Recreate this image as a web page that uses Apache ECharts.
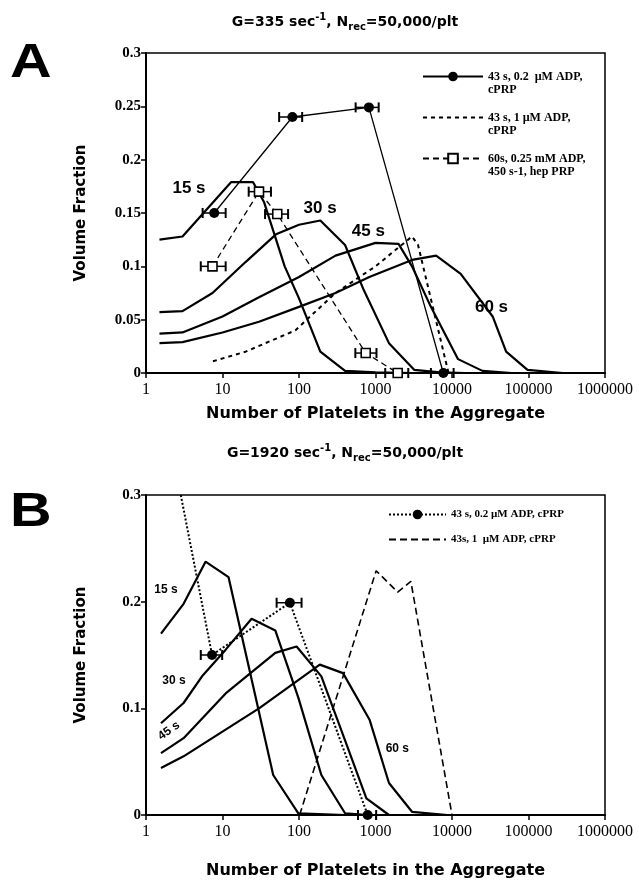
<!DOCTYPE html>
<html>
<head>
<meta charset="utf-8">
<script src="https://cdn.jsdelivr.net/npm/echarts@6/dist/echarts.min.js"></script>
<style>
html, body { margin: 0; padding: 0; background: #fff; }
#chart { width: 639px; height: 892px; }
</style>
</head>
<body>
<div id="chart"></div>
<script>
// ---- panel A : G=335 1/s ----
const a15x = [1.5, 3, 13, 25, 35, 65, 100, 190, 400, 1000, 3000];
const a15y = [0.125, 0.128, 0.179, 0.179, 0.16, 0.1, 0.07, 0.02, 0.002, 0.0005, 0];
const a30x = [1.5, 3, 7.4, 20, 50, 100, 190, 400, 700, 1500, 3200, 7000, 15000];
const a30y = [0.057, 0.058, 0.075, 0.104, 0.13, 0.139, 0.143, 0.12, 0.078, 0.028, 0.003, 0.0006, 0];
const a45x = [1.5, 3, 10, 30, 100, 300, 1000, 2000, 3000, 5300, 12000, 25000, 60000];
const a45y = [0.037, 0.038, 0.053, 0.071, 0.09, 0.11, 0.122, 0.121, 0.1, 0.062, 0.013, 0.002, 0];
const a60x = [1.5, 3, 10, 30, 100, 300, 830, 3000, 6200, 13000, 34000, 51000, 97000, 280000];
const a60y = [0.028, 0.029, 0.038, 0.048, 0.062, 0.075, 0.09, 0.106, 0.11, 0.093, 0.053, 0.02, 0.003, 0];
// 43 s, 1 uM ADP (dotted)
const a1uMx = [7.5, 20, 90, 150, 300, 1000, 3000, 3600, 9000];
const a1uMy = [0.011, 0.02, 0.04, 0.055, 0.075, 0.1, 0.128, 0.12, 0];
// 43 s, 0.2 uM ADP (filled circles) + error bars
const aDotx = [7.8, 82, 820, 7700];
const aDoty = [0.15, 0.24, 0.249, 0];
const aDotLo = [5.5, 55, 550, 5300];
const aDotHi = [11, 110, 1100, 10500];
// 60 s, 0.25 mM ADP (open squares) + error bars
const aSqx = [7.4, 30, 52, 745, 1950];
const aSqy = [0.1, 0.17, 0.149, 0.0187, 0];
const aSqLo = [5.2, 22, 36, 545, 1340];
const aSqHi = [11, 43, 72, 1030, 2680];
const aLabels = ['15 s', '30 s', '45 s', '60 s'];
const aLabelX = [3.65, 189, 805, 32800];
const aLabelY = [0.173, 0.154, 0.133, 0.062];

// ---- panel B : G=1920 1/s ----
const b15x = [1.57, 3.1, 6, 12, 46, 98, 400];
const b15y = [0.17, 0.198, 0.2375, 0.223, 0.0375, 0.0016, 0];
const b30x = [1.57, 3.1, 5.4, 11, 24, 49, 98, 196, 400, 800];
const b30y = [0.086, 0.105, 0.13, 0.155, 0.184, 0.173, 0.11, 0.0375, 0.0016, 0];
const b45x = [1.57, 3.1, 11, 49, 93, 196, 400, 760, 1500];
const b45y = [0.058, 0.072, 0.114, 0.152, 0.158, 0.13, 0.07, 0.0156, 0];
const b60x = [1.57, 3.1, 30, 187, 376, 840, 1500, 3000, 8700];
const b60y = [0.044, 0.055, 0.1, 0.141, 0.133, 0.089, 0.03, 0.003, 0];
// 43 s, 0.2 uM ADP (dotted, circles); first point is where the line enters the frame
const bDotx = [2.85, 7.3, 76, 790];
const bDoty = [0.3, 0.15, 0.199, 0];
const bDotLo = [null, 5.2, 51, 590];
const bDotHi = [null, 9.9, 108, 1020];
// 43 s, 1 uM ADP (dashed)
const b1uMx = [102, 1020, 1950, 2900, 10000];
const b1uMy = [0, 0.229, 0.209, 0.219, 0];
const bLabels = ['15 s', '30 s', '45 s', '60 s'];
const bLabelX = [1.82, 2.32, 2.0, 1930];
const bLabelY = [0.211, 0.1256, 0.079, 0.062];

const xTicks = [1, 10, 100, 1000, 10000, 100000, 1000000];

const zip = (xs, ys) => xs.map((x, i) => [x, ys[i]]);
const serif = 'Liberation Serif';
const sans = 'Liberation Sans';
const heavy = 'DejaVu Sans';

function curve(idx, xs, ys) {
  return {
    type: 'line', xAxisIndex: idx, yAxisIndex: idx, data: zip(xs, ys),
    symbol: 'none', lineStyle: { color: '#000', width: 2.2 }, z: 2
  };
}

function errBars(idx, xs, ys, lo, hi) {
  return {
    type: 'custom', xAxisIndex: idx, yAxisIndex: idx, silent: true, z: 3,
    data: xs.map((x, i) => [x, ys[i], lo[i], hi[i]]).filter(d => d[2] != null),
    renderItem: (params, api) => {
      const p0 = api.coord([api.value(2), api.value(1)]);
      const p1 = api.coord([api.value(3), api.value(1)]);
      const h = 5;
      const st = { stroke: '#000', lineWidth: 2 };
      return {
        type: 'group', children: [
          { type: 'line', shape: { x1: p0[0], y1: p0[1], x2: p1[0], y2: p1[1] }, style: { stroke: '#000', lineWidth: 1.5 } },
          { type: 'line', shape: { x1: p0[0], y1: p0[1] - h, x2: p0[0], y2: p0[1] + h }, style: st },
          { type: 'line', shape: { x1: p1[0], y1: p1[1] - h, x2: p1[0], y2: p1[1] + h }, style: st }
        ]
      };
    }
  };
}

function curveLabels(idx, names, xs, ys, size, rot) {
  return {
    type: 'scatter', xAxisIndex: idx, yAxisIndex: idx, silent: true, symbolSize: 1, z: 6,
    itemStyle: { color: 'rgba(0,0,0,0)', opacity: 1 },
    data: names.map((n, i) => ({ name: n, value: [xs[i], ys[i]], label: { rotate: rot[i] } })),
    label: { show: true, position: 'inside', formatter: '{b}', color: '#000', opacity: 1,
      textBorderWidth: 0, fontFamily: sans, fontWeight: 'bold', fontSize: size }
  };
}

function xAxisOpt(idx, gap) {
  return {
    type: 'log', logBase: 10, gridIndex: idx, min: 1, max: 1000000, splitNumber: 6,
    name: 'Number of Platelets in the Aggregate', nameLocation: 'middle', nameGap: gap,
    nameTextStyle: { fontFamily: heavy, fontWeight: 'bold', fontSize: 16, color: '#000' },
    axisLine: { lineStyle: { color: '#000', width: 2 } },
    axisTick: { show: true, length: 5, lineStyle: { color: '#000', width: 1.5 } },
    axisLabel: { color: '#000', fontFamily: serif, fontSize: 16, margin: 9,
      formatter: v => String(xTicks.find(t => Math.abs(t - v) / t < 0.01) || Math.round(v)) },
    splitLine: { show: false }, minorTick: { show: false }
  };
}

function yAxisOpt(idx, max, interval) {
  return {
    type: 'value', gridIndex: idx, min: 0, max: max, interval: interval,
    name: 'Volume Fraction', nameLocation: 'middle', nameGap: 57,
    nameTextStyle: { fontFamily: heavy, fontWeight: 'bold', fontSize: 15, color: '#000' },
    axisLine: { show: true, lineStyle: { color: '#000', width: 2 } },
    axisTick: { show: true, length: 5, lineStyle: { color: '#000', width: 1.5 } },
    axisLabel: { color: '#000', fontFamily: serif, fontWeight: 'bold', fontSize: 15, margin: 5 },
    splitLine: { show: false }
  };
}

const nA1 = '43 s, 0.2  \u00b5M ADP,\ncPRP';
const nA2 = '43 s, 1 \u00b5M ADP,\ncPRP';
const nA3 = '60s, 0.25 mM ADP,\n450 s-1, hep PRP';
const nB1 = '43 s, 0.2 \u00b5M ADP, cPRP';
const nB2 = '43s, 1  \u00b5M ADP, cPRP';
const noMark = { color: 'rgba(0,0,0,0)', borderColor: 'rgba(0,0,0,0)' };

const titleRich = {
  b: { fontFamily: heavy, fontWeight: 'bold', fontSize: 14, lineHeight: 20, color: '#000' },
  sup: { fontFamily: heavy, fontWeight: 'bold', fontSize: 10, lineHeight: 10, verticalAlign: 'top', color: '#000' },
  sub: { fontFamily: heavy, fontWeight: 'bold', fontSize: 10, lineHeight: 10, verticalAlign: 'bottom', color: '#000' }
};

const chart = echarts.init(document.getElementById('chart'), null, { renderer: 'canvas' });
chart.setOption({
  animation: false,
  backgroundColor: '#fff',
  grid: [
    { left: 146, top: 53, width: 459, height: 320, show: true, borderColor: '#000', borderWidth: 1.5, containLabel: false },
    { left: 146, top: 495, width: 459, height: 320, show: true, borderColor: '#000', borderWidth: 1.5, containLabel: false }
  ],
  xAxis: [xAxisOpt(0, 33), xAxisOpt(1, 48)],
  yAxis: [yAxisOpt(0, 0.3, 0.05), yAxisOpt(1, 0.3, 0.1)],
  legend: [
    {
      // leading blank line keeps the first text line level with the key
      data: [nA1, nA2, nA3], orient: 'vertical', left: 417, top: 52,
      itemWidth: 60, itemHeight: 12, itemGap: 2, selectedMode: false,
      formatter: name => '\n' + name,
      textStyle: { fontFamily: serif, fontWeight: 'bold', fontSize: 12, lineHeight: 13, color: '#000' }
    },
    {
      data: [nB1, nB2], orient: 'vertical', left: 383, top: 504,
      itemWidth: 57, itemHeight: 12, itemGap: 14, selectedMode: false,
      textStyle: { fontFamily: serif, fontWeight: 'bold', fontSize: 11, color: '#000' }
    }
  ],
  graphic: [
    { type: 'text', x: 345, y: 22, style: { text: '{b|G=335 sec}{sup|-1}{b|, N}{sub|rec}{b|=50,000/plt}', rich: titleRich, align: 'center', verticalAlign: 'middle' } },
    { type: 'text', x: 345, y: 453, style: { text: '{b|G=1920 sec}{sup|-1}{b|, N}{sub|rec}{b|=50,000/plt}', rich: titleRich, align: 'center', verticalAlign: 'middle' } },
    { type: 'text', x: 10, y: 64, scaleX: 1.2, style: { text: 'A', fontFamily: sans, fontWeight: 'bold', fontSize: 48, fill: '#000', verticalAlign: 'middle' } },
    { type: 'text', x: 10, y: 513, scaleX: 1.2, style: { text: 'B', fontFamily: sans, fontWeight: 'bold', fontSize: 48, fill: '#000', verticalAlign: 'middle' } }
  ],
  series: [
    curve(0, a15x, a15y), curve(0, a30x, a30y), curve(0, a45x, a45y), curve(0, a60x, a60y),
    {
      name: nA1, type: 'line', xAxisIndex: 0, yAxisIndex: 0, data: zip(aDotx, aDoty),
      symbol: 'circle', symbolSize: 10, itemStyle: { color: '#000' },
      lineStyle: { color: '#000', width: 1.3 }, z: 4
    },
    {
      name: nA2, type: 'line', xAxisIndex: 0, yAxisIndex: 0, data: zip(a1uMx, a1uMy),
      symbol: 'none', itemStyle: noMark,
      lineStyle: { color: '#000', width: 2, type: [4, 4] }, z: 2
    },
    {
      name: nA3, type: 'line', xAxisIndex: 0, yAxisIndex: 0, data: zip(aSqx, aSqy),
      symbol: 'rect', symbolSize: 9, itemStyle: { color: '#fff', borderColor: '#000', borderWidth: 1.6 },
      lineStyle: { color: '#000', width: 1.3, type: [6, 4] }, z: 4
    },
    errBars(0, aDotx, aDoty, aDotLo, aDotHi),
    errBars(0, aSqx, aSqy, aSqLo, aSqHi),
    curveLabels(0, aLabels, aLabelX, aLabelY, 17, [0, 0, 0, 0]),

    curve(1, b15x, b15y), curve(1, b30x, b30y), curve(1, b45x, b45y), curve(1, b60x, b60y),
    {
      name: nB1, type: 'line', xAxisIndex: 1, yAxisIndex: 1,
      data: bDotx.map((x, i) => (bDotLo[i] == null ? { value: [x, bDoty[i]], symbol: 'none' } : [x, bDoty[i]])),
      symbol: 'circle', symbolSize: 10, itemStyle: { color: '#000' },
      lineStyle: { color: '#000', width: 2, type: [2, 2] }, z: 4
    },
    {
      name: nB2, type: 'line', xAxisIndex: 1, yAxisIndex: 1, data: zip(b1uMx, b1uMy),
      symbol: 'none', itemStyle: noMark,
      lineStyle: { color: '#000', width: 1.6, type: [7, 4] }, z: 2
    },
    errBars(1, bDotx, bDoty, bDotLo, bDotHi),
    curveLabels(1, bLabels, bLabelX, bLabelY, 12, [0, 0, 35, 0])
  ]
});
</script>
</body>
</html>
